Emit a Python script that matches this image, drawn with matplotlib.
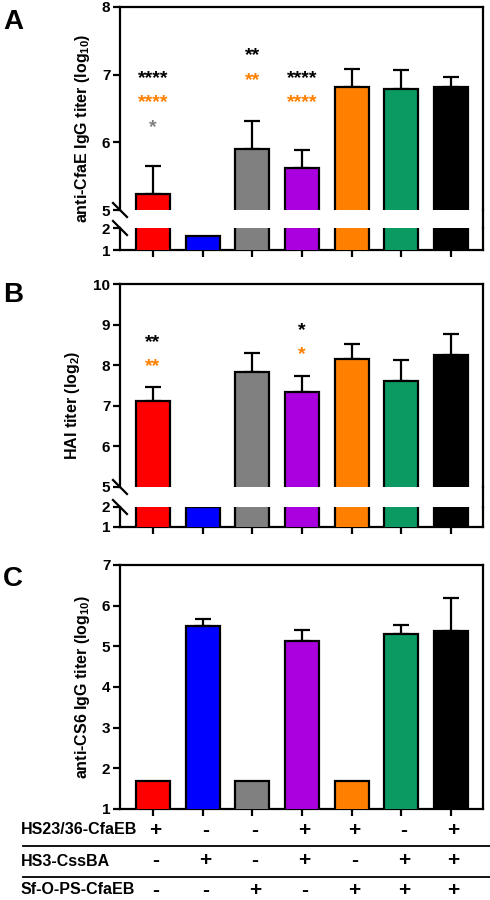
import numpy as np
import matplotlib
matplotlib.use('Agg')
from matplotlib import pyplot as plt
from matplotlib.lines import Line2D
from matplotlib.transforms import blended_transform_factory, ScaledTranslation

plt.rcParams['font.family'] = ['Liberation Sans', 'DejaVu Sans']
plt.rcParams['font.weight'] = 'bold'
plt.rcParams['mathtext.fontset'] = 'custom'
plt.rcParams['mathtext.rm'] = 'Liberation Sans:bold'
plt.rcParams['mathtext.default'] = 'rm'

W, H = 490, 900

# groups / colours
colors = ['#ff0000', '#0000ff', '#808080', '#aa00e0', '#ff8000', '#0b9a62', '#000000']
x = np.arange(7)

# A: anti-CfaE IgG (log10)
cfae_mean = np.array([5.24, 1.64, 5.90, 5.62, 6.82, 6.79, 6.82])
cfae_sd = np.array([0.41, 0.0, 0.41, 0.27, 0.26, 0.28, 0.14])
cfae_star_x = [0, 0, 0, 2, 2, 3, 3]
cfae_star_y = [7.0, 6.65, 6.28, 7.34, 6.97, 7.0, 6.65]
cfae_star_txt = ['****', '****', '*', '**', '**', '****', '****']
cfae_star_col = ['black', '#ff8000', '#808080', 'black', '#ff8000', 'black', '#ff8000']

# B: HAI titer (log2)
hai_mean = np.array([7.12, 2.0, 7.84, 7.33, 8.15, 7.61, 8.25])
hai_sd = np.array([0.35, 0.0, 0.46, 0.40, 0.36, 0.51, 0.52])
hai_star_x = [0, 0, 3, 3]
hai_star_y = [8.66, 8.07, 8.94, 8.35]
hai_star_txt = ['**', '**', '*', '*']
hai_star_col = ['black', '#ff8000', 'black', '#ff8000']

# C: anti-CS6 IgG (log10)
cs6_mean = np.array([1.68, 5.49, 1.68, 5.13, 1.68, 5.30, 5.38])
cs6_sd = np.array([0.0, 0.19, 0.0, 0.28, 0.0, 0.22, 0.80])

# vaccine table
row_labels = ['HS23/36-CfaEB', 'HS3-CssBA', 'Sf-O-PS-CfaEB']
row_marks = [['+', '-', '-', '+', '+', '-', '+'],
             ['-', '+', '-', '+', '-', '+', '+'],
             ['-', '-', '+', '-', '+', '+', '+']]

fig = plt.figure(figsize=(W / 100, H / 100), dpi=100)

LEFT, RIGHT = 120, 483
XLIM = (-0.664, 6.644)
LW = 1.6


def box(top_px, bot_px):
    return [LEFT / W, 1 - bot_px / H, (RIGHT - LEFT) / W, (bot_px - top_px) / H]


def style(ax):
    for s in ax.spines.values():
        s.set_linewidth(LW)
    ax.tick_params(direction='out', length=5, width=LW, labelsize=11, pad=2)
    ax.set_xlim(*XLIM)


def draw_bars(ax, mean, sd):
    ax.bar(x, mean, width=0.68, color=colors, edgecolor='black', linewidth=LW, zorder=3)
    m = sd > 0
    ax.errorbar(x[m], mean[m], yerr=[np.zeros(m.sum()), sd[m]], fmt='none',
                ecolor='black', elinewidth=LW, capsize=6, capthick=LW, zorder=2)


def broken_panel(top_px, brk_hi, brk_lo, bot_px, ytop, mean, sd):
    ax_u = fig.add_axes(box(top_px, brk_hi))
    ax_l = fig.add_axes(box(brk_lo, bot_px))
    for ax in (ax_u, ax_l):
        style(ax)
        draw_bars(ax, mean, sd)
    ax_u.set_ylim(5, ytop)
    ax_u.set_yticks(np.arange(5, ytop + 1))
    ax_l.set_ylim(1, 2)
    ax_l.set_yticks([1, 2])
    ax_u.spines['bottom'].set_visible(False)
    ax_u.tick_params(axis='x', bottom=False, labelbottom=False)
    ax_l.spines['top'].set_visible(False)
    ax_l.set_xticks(x)
    ax_l.set_xticklabels([])
    # continuous right spine through the gap
    fig.add_artist(Line2D([RIGHT / W, RIGHT / W], [1 - brk_hi / H, 1 - brk_lo / H],
                          color='black', lw=LW))
    # break marks on left spine
    for yp in (brk_hi, brk_lo):
        fig.add_artist(Line2D([(LEFT - 7) / W, (LEFT + 7) / W],
                              [1 - (yp - 7) / H, 1 - (yp + 7) / H], color='black', lw=LW))
    return ax_u, ax_l


def stars(ax, sx, sy, st, sc):
    shift = ScaledTranslation(0, -4 / 100, fig.dpi_scale_trans)
    for xi, yi, t, c in zip(sx, sy, st, sc):
        ax.text(xi, yi, t, color=c, ha='center', va='center', fontsize=14, zorder=5,
                transform=ax.transData + shift)


# panel A
axA, axA2 = broken_panel(7, 210, 228, 250, 8, cfae_mean, cfae_sd)
stars(axA, cfae_star_x, cfae_star_y, cfae_star_txt, cfae_star_col)

# panel B
axB, axB2 = broken_panel(284, 487, 507, 527, 10, hai_mean, hai_sd)
stars(axB, hai_star_x, hai_star_y, hai_star_txt, hai_star_col)

# panel C
axC = fig.add_axes(box(565, 809))
style(axC)
draw_bars(axC, cs6_mean, cs6_sd)
axC.set_ylim(1, 7)
axC.set_yticks(np.arange(1, 8))
axC.set_xticks(x)
axC.set_xticklabels([])

# axis labels and panel letters
fig.text(82 / W, 1 - 128 / H, 'anti-CfaE IgG titer (log$_{10}$)', rotation=90,
         ha='center', va='center', fontsize=11.5)
fig.text(72 / W, 1 - 405 / H, 'HAI titer (log$_{2}$)', rotation=90,
         ha='center', va='center', fontsize=11.5)
fig.text(82 / W, 1 - 687 / H, 'anti-CS6 IgG titer (log$_{10}$)', rotation=90,
         ha='center', va='center', fontsize=11.5)
for letter, ypx in zip('ABC', (9, 282, 566)):
    fig.text(3 / W, 1 - ypx / H, letter, ha='left', va='top', fontsize=20)

# vaccine table below panel C
tr = blended_transform_factory(axC.transData, fig.transFigure)
row_y = [830, 861, 890]
for lab, marks, ypx in zip(row_labels, row_marks, row_y):
    fig.text(21 / W, 1 - ypx / H, lab, ha='left', va='center', fontsize=11.5)
    for xi, mk in zip(x, marks):
        axC.text(xi + 0.05, 1 - ypx / H, mk, transform=tr, ha='center', va='center',
                 fontsize=15, clip_on=False)
for ypx in (846, 877):
    fig.add_artist(Line2D([23 / W, 1.0], [1 - ypx / H, 1 - ypx / H], color='black', lw=1.3))

fig.savefig('out.png', dpi=100)
